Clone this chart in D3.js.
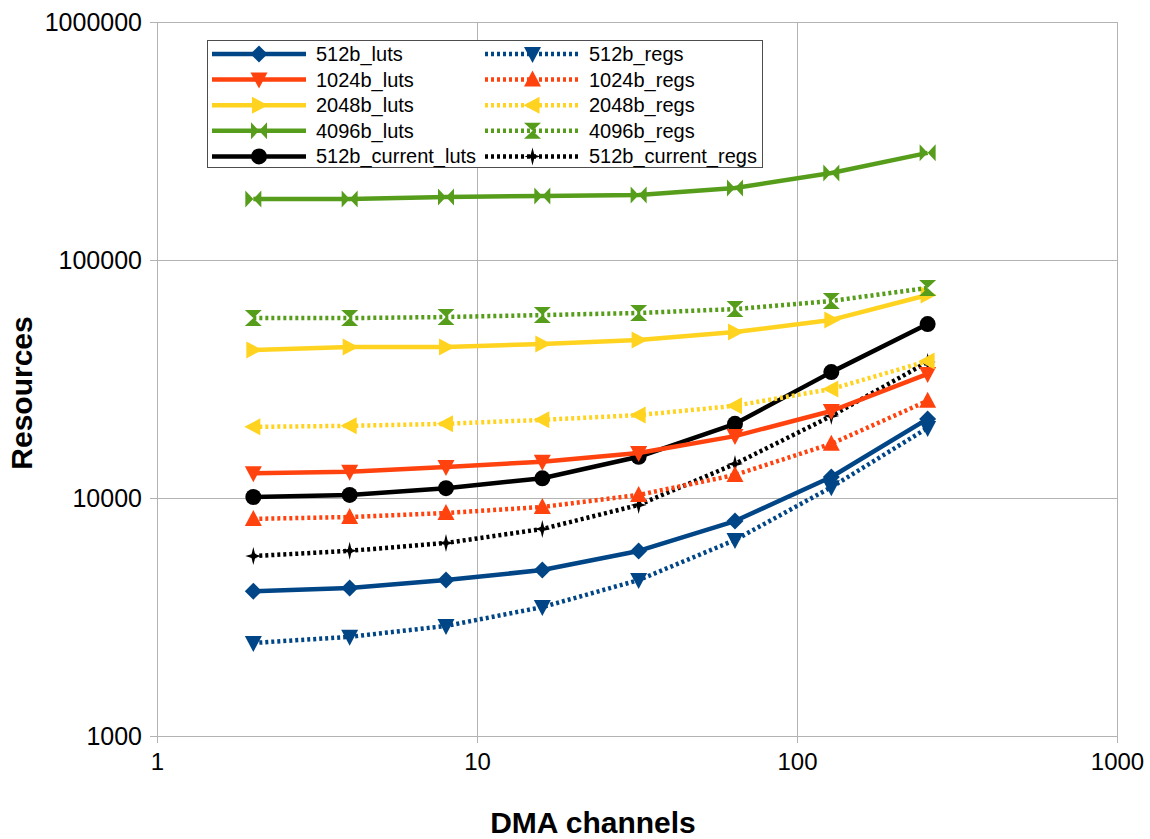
<!DOCTYPE html>
<html>
<head>
<meta charset="utf-8">
<script src="https://cdn.jsdelivr.net/npm/d3@7"></script>
<style>
  html, body { margin: 0; padding: 0; background: #fff; }
  svg { display: block; font-family: "Liberation Sans", Arial, sans-serif; }
</style>
</head>
<body>
<svg id="chart" width="1150" height="839"></svg>
<script>
// ---- data ----
const channels = [2, 4, 8, 16, 32, 64, 128, 256];
const xTicks = [1, 10, 100, 1000];
const yTicks = [1000, 10000, 100000, 1000000];

const luts512 = [4060, 4190, 4520, 4980, 5990, 8000, 12250, 21500];
const regs512 = [2460, 2610, 2900, 3480, 4520, 6660, 11100, 19700];
const luts1024 = [12700, 12900, 13500, 14200, 15450, 18200, 23200, 33200];
const regs1024 = [8170, 8320, 8650, 9170, 10300, 12500, 16900, 25600];
const luts2048 = [41900, 43100, 43100, 44400, 46100, 49800, 56000, 71300];
const regs2048 = [19900, 20100, 20500, 21300, 22300, 24400, 28700, 37600];
const luts4096 = [180400, 180400, 184000, 185800, 187600, 200800, 232000, 282000];
const regs4096 = [57000, 57000, 57600, 58700, 59900, 62200, 67300, 76300];
const lutsCurrent512 = [10100, 10300, 11000, 12100, 14900, 20500, 33800, 53800];
const regsCurrent512 = [5700, 6000, 6470, 7410, 9350, 13900, 22100, 37300];

const seriesNames = ["512b_luts", "512b_regs", "1024b_luts", "1024b_regs",
  "2048b_luts", "2048b_regs", "4096b_luts", "4096b_regs",
  "512b_current_luts", "512b_current_regs"];
const seriesValues = [luts512, regs512, luts1024, regs1024, luts2048, regs2048,
  luts4096, regs4096, lutsCurrent512, regsCurrent512];

// ---- styles ----
const colors = ["#004586", "#004586", "#ff420e", "#ff420e", "#ffd320", "#ffd320",
  "#579d1c", "#579d1c", "#000000", "#000000"];
const dotted = [false, true, false, true, false, true, false, true, false, true];
const markers = ["diamond", "triDown", "triDown", "triUp", "triRight", "triLeft",
  "bowtie", "hourglass", "circle", "star"];

const markerPath = {
  diamond: "M0,-8.5L8.5,0L0,8.5L-8.5,0Z",
  triDown: "M-8.5,-7L8.5,-7L0,9Z",
  triUp: "M-8.5,7L8.5,7L0,-9Z",
  triRight: "M-7,-8.5L-7,8.5L9,0Z",
  triLeft: "M7,-8.5L7,8.5L-9,0Z",
  bowtie: "M-8,-8.5L0,0L-8,8.5ZM8,-8.5L0,0L8,8.5Z",
  hourglass: "M-8.5,-8L8.5,-8L0,0ZM-8.5,8L8.5,8L0,0Z",
  circle: "M8,0A8,8 0 1,1 -8,0A8,8 0 1,1 8,0Z",
  star: "M0,-9L1.8,-1.8L8,0L1.8,1.8L0,9L-1.8,1.8L-8,0L-1.8,-1.8Z"
};

const svg = d3.select("#chart");
const pLeft = 157, pRight = 1117, pTop = 22, pBottom = 736;

const x = d3.scaleLog().domain([1, 1000]).range([pLeft, pRight]);
const y = d3.scaleLog().domain([1000, 1000000]).range([pBottom, pTop]);

const gridColor = "#b3b3b3";

// grid
svg.append("g").selectAll("line").data(xTicks).join("line")
  .attr("x1", d => x(d)).attr("x2", d => x(d))
  .attr("y1", pTop).attr("y2", pBottom)
  .attr("stroke", gridColor).attr("stroke-width", 1).attr("shape-rendering", "crispEdges");
svg.append("g").selectAll("line").data(yTicks).join("line")
  .attr("x1", pLeft).attr("x2", pRight)
  .attr("y1", d => y(d)).attr("y2", d => y(d))
  .attr("stroke", gridColor).attr("stroke-width", 1).attr("shape-rendering", "crispEdges");

// axes
const xAxis = d3.axisBottom(x).tickValues(xTicks).tickFormat(d3.format("d"))
  .tickSizeOuter(0).tickSizeInner(7).tickPadding(10);
const yAxis = d3.axisLeft(y).tickValues(yTicks).tickFormat(d3.format("d"))
  .tickSizeOuter(0).tickSizeInner(7).tickPadding(8);

const gx = svg.append("g").attr("transform", `translate(0,${pBottom})`).call(xAxis);
const gy = svg.append("g").attr("transform", `translate(${pLeft},0)`).call(yAxis);
[gx, gy].forEach(g => {
  g.select(".domain").attr("stroke", gridColor).attr("shape-rendering", "crispEdges");
  g.selectAll(".tick line").attr("stroke", gridColor).attr("shape-rendering", "crispEdges");
  g.selectAll(".tick text").attr("fill", "#000")
    .style("font-family", "'Liberation Sans', Arial, sans-serif");
});
gx.selectAll(".tick text").attr("dy", "0.71em").style("font-size", "24px");
gy.selectAll(".tick text").attr("dy", "0.35em").style("font-size", "25px");

// axis titles
svg.append("text").attr("x", 593).attr("y", 833).attr("text-anchor", "middle")
  .style("font-size", "30px").style("font-weight", "bold").text("DMA channels");
svg.append("text").attr("transform", "translate(32,393) rotate(-90)").attr("text-anchor", "middle")
  .style("font-size", "30px").style("font-weight", "bold").text("Resources");

// series
const line = d3.line().x((d, i) => x(channels[i])).y(d => y(d));
const order = [8, 9, 0, 1, 2, 3, 4, 5, 6, 7];
const gs = svg.append("g");
order.forEach(si => {
  const g = gs.append("g");
  g.append("path").datum(seriesValues[si])
    .attr("d", line)
    .attr("fill", "none")
    .attr("stroke", colors[si])
    .attr("stroke-width", 4.5)
    .attr("stroke-dasharray", dotted[si] ? "3,3" : null)
    .attr("stroke-linejoin", "round");
  g.selectAll("path.m").data(seriesValues[si]).join("path")
    .attr("class", "m")
    .attr("transform", (d, i) => `translate(${x(channels[i])},${y(d)})`)
    .attr("d", markerPath[markers[si]])
    .attr("fill", colors[si]);
});

// legend
const legend = svg.append("g");
legend.append("rect").attr("x", 207.5).attr("y", 40.5).attr("width", 555).attr("height", 127)
  .attr("fill", "#fff").attr("stroke", "#4d4d4d").attr("stroke-width", 1);
seriesNames.forEach((name, si) => {
  const col = si % 2, row = Math.floor(si / 2);
  const cy = 54 + row * 25.6;
  const lx0 = col === 0 ? 212 : 485;
  const lx1 = col === 0 ? 306 : 580;
  const tx = col === 0 ? 316 : 589;
  const g = legend.append("g");
  g.append("line").attr("x1", lx0).attr("x2", lx1).attr("y1", cy).attr("y2", cy)
    .attr("stroke", colors[si]).attr("stroke-width", 4.5)
    .attr("stroke-dasharray", dotted[si] ? "3,3" : null);
  g.append("path").attr("transform", `translate(${(lx0 + lx1) / 2},${cy})`)
    .attr("d", markerPath[markers[si]]).attr("fill", colors[si]);
  g.append("text").attr("x", tx).attr("y", cy).attr("dy", "0.35em")
    .style("font-size", "20px").text(name);
});
</script>
</body>
</html>
